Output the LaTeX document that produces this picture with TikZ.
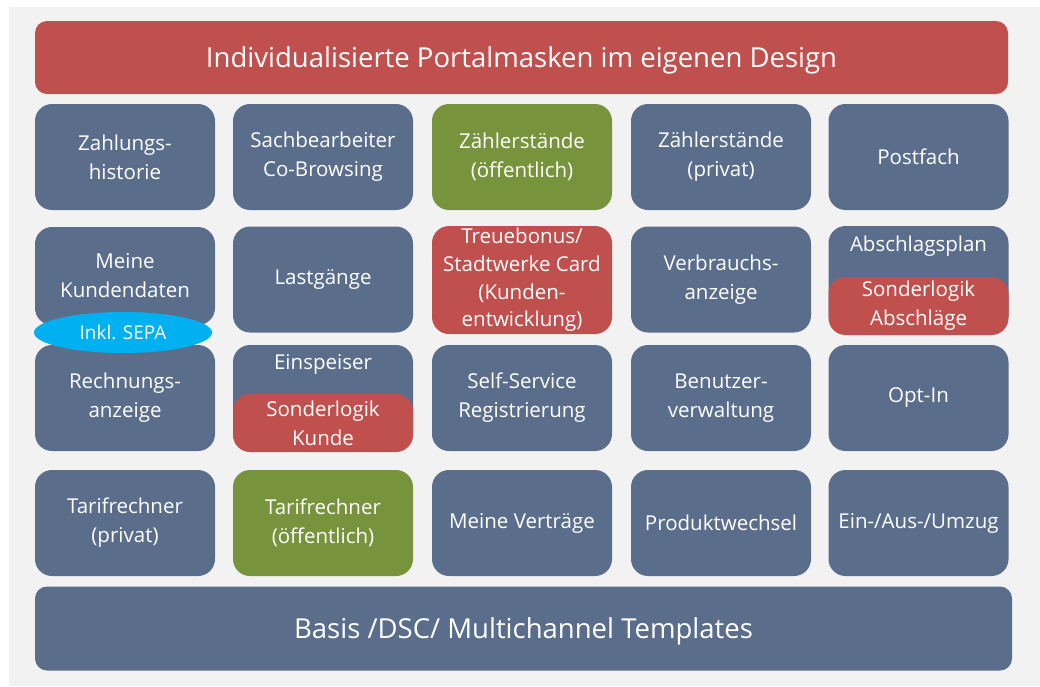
\documentclass[tikz,border=0pt]{standalone}
\usepackage{fontspec}
\setmainfont{Open Sans}
\usetikzlibrary{shapes.geometric}
\definecolor{portalblue}{HTML}{5A6E8C}
\definecolor{portalred}{HTML}{C0504D}
\definecolor{portalgreen}{HTML}{77933C}
\definecolor{portalcyan}{HTML}{00B0F0}
\definecolor{panelgray}{HTML}{F2F2F2}
\begin{document}
\begin{tikzpicture}[x=1pt,y=-1pt,
    tile/.style={rectangle,rounded corners=17pt,fill=portalblue,text=white,align=center,
                 minimum width=180pt,minimum height=106pt,inner sep=0pt,
                 font=\fontsize{20.5}{29}\selectfont},
    redtile/.style={tile,fill=portalred},
    greentile/.style={tile,fill=portalgreen},
    patch/.style={redtile,minimum height=58pt},
    plain/.style={text=white,font=\fontsize{20.5}{29}\selectfont,inner sep=0pt},
    bar/.style={tile,rounded corners=12pt,text depth=0pt,font=\fontsize{27.5}{32}\selectfont}]

    \useasboundingbox (0,0) rectangle (1040,686);
    \fill[panelgray] (9,7) rectangle (1040,686);

    % top and bottom bars
    \node[bar,fill=portalred,minimum width=973pt,minimum height=73pt] (design) at (521.5,57.5)
        {Individualisierte Portalmasken im eigenen Design};
    \node[bar,minimum width=977pt,minimum height=84pt] (basis) at (523.5,628.5)
        {Basis /DSC/ Multichannel Templates};

    % row 1
    \node[tile] (zahlung) at (125,157) {Zahlungs-\\historie};
    \node[tile] (sachbearb) at (323,157) {Sachbearbeiter\\Co-Browsing};
    \node[greentile] (zaehloeff) at (522,157) {Zählerstände\\(öffentlich)};
    \node[tile] (zaehlpriv) at (721,157) {Zählerstände\\(privat)};
    \node[tile] (postfach) at (918.5,157) {Postfach};

    % row 2
    \node[tile,minimum height=98pt] (kunden) at (125,276) {Meine\\Kundendaten};
    \node[tile] (lastgang) at (323,279.5) {Lastgänge};
    \node[redtile,minimum height=108pt,font=\fontsize{20.5}{27.7}\selectfont] (treue) at (522,280)
        {Treuebonus/\\Stadtwerke Card\\(Kunden-\\entwicklung)};
    \node[tile] (verbrauch) at (721,279.5) {Verbrauchs-\\anzeige};
    \node[tile] (abschlag) at (918.5,279) {};
    \node[plain] (abschlagtxt) at (918.5,246) {Abschlagsplan};
    \node[patch] (sonderabschlag) at (918.5,306) {Sonderlogik\\Abschläge};

    % row 3
    \node[tile] (rechnung) at (125,398) {Rechnungs-\\anzeige};
    \node[tile] (einspeiser) at (323,398) {};
    \node[plain] (einspeisertxt) at (323,364) {Einspeiser};
    \node[patch] (sonderkunde) at (323,423) {Sonderlogik\\Kunde};
    \node[tile] (selfservice) at (522,398) {Self-Service\\Registrierung};
    \node[tile] (benutzer) at (721,398) {Benutzer-\\verwaltung};
    \node[tile] (optin) at (918.5,398) {Opt-In};

    % row 4
    \node[tile] (tarifpriv) at (125,523) {Tarifrechner\\(privat)};
    \node[greentile] (tarifoeff) at (323,523) {Tarifrechner\\(öffentlich)};
    \node[tile] (vertraege) at (522,523) {Meine Verträge};
    \node[tile] (produkt) at (721,523) {Produktwechsel};
    \node[tile] (umzug) at (918.5,523) {Ein-/Aus-/Umzug};

    % SEPA badge
    \node[ellipse,fill=portalcyan,text=white,minimum width=178pt,minimum height=41pt,inner sep=0pt,
          font=\fontsize{19}{22}\selectfont] (sepa) at (123,332.5) {Inkl. SEPA};
\end{tikzpicture}
\end{document}
